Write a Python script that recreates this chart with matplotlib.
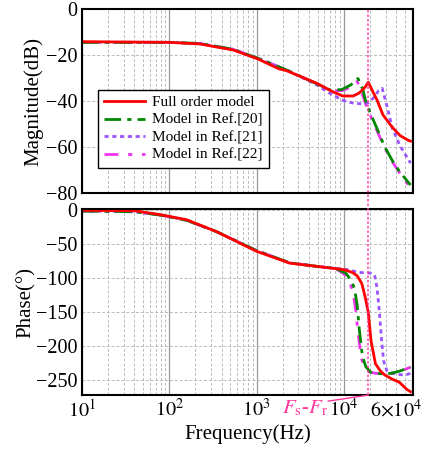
import numpy as np
import matplotlib
matplotlib.use("Agg")
import matplotlib.pyplot as plt
import matplotlib.transforms as mtransforms
from matplotlib.lines import Line2D

plt.rcParams['font.family'] = ['Liberation Serif', 'DejaVu Serif']
plt.rcParams['mathtext.fontset'] = 'stix'
plt.rcParams['axes.unicode_minus'] = True

# ---------------- data ----------------
# Full order model
f_full_mag = [10, 40, 100, 224, 537, 1050, 1800, 2200, 4900, 7500, 9700, 12800, 15000, 17500, 19000, 21500, 24000, 28000, 36000, 44000, 54000, 58000]
m_full = [-14.2, -14.4, -14.5, -15.2, -17.8, -21.8, -26.0, -26.8, -32.3, -36.0, -37.8, -37.8, -36.5, -34.0, -31.8, -36.0, -39.6, -46.0, -51.5, -55.0, -57.0, -57.4]
f_full_ph = [10, 40, 80, 158, 345, 1000, 2400, 4800, 10000, 12500, 14200, 16000, 17300, 18200, 19000, 20500, 23000, 26000, 29000, 35000, 43000, 53000, 58000]
p_full = [-1.0, -1.5, -7.4, -14.7, -32.0, -61.0, -78.4, -83.0, -88.0, -92.0, -97.0, -108.0, -125.0, -138.0, -150.0, -193.0, -226.0, -236.0, -242.0, -248.0, -253.0, -264.0, -267.0]

# Model in Ref.[20]
f_r20_mag = [10, 100, 224, 537, 1050, 2200, 4900, 7000, 9500, 12000, 14500, 16500, 18000, 21000, 24000, 29000, 36000, 44000, 58000]
m_r20 = [-14.5, -14.5, -15.0, -17.5, -21.5, -26.5, -32.5, -35.3, -35.0, -33.0, -30.2, -35.0, -41.0, -47.0, -52.0, -59.5, -66.0, -71.0, -76.5]
f_r20_ph = [10, 40, 80, 158, 345, 1000, 2400, 4800, 8000, 10500, 12000, 13200, 14200, 15000, 16300, 17800, 20000, 23000, 29000, 35000, 43000, 58000]
p_r20 = [-2.0, -3.0, -8.0, -15.5, -32.0, -60.0, -78.0, -83.0, -86.0, -93.0, -103.0, -115.0, -140.0, -175.0, -215.0, -230.0, -238.0, -240.0, -241.0, -240.0, -237.0, -231.0]

# Model in Ref.[21]
f_r21_mag = [10, 100, 224, 537, 1050, 2200, 4900, 7500, 10000, 13000, 16000, 19000, 22000, 25000, 27500, 31000, 36000, 44000, 58000]
m_r21 = [-14.5, -14.5, -15.0, -17.5, -21.5, -26.5, -33.0, -37.5, -39.8, -41.0, -41.2, -40.8, -38.5, -35.5, -34.5, -42.0, -52.0, -59.5, -67.0]
f_r21_ph = [10, 40, 80, 158, 345, 1000, 2400, 4800, 8000, 11000, 15000, 20000, 22500, 24000, 25500, 27000, 28500, 31000, 36000, 44000, 52000, 58000]
p_r21 = [-2.0, -3.0, -8.0, -15.5, -32.0, -60.0, -78.0, -83.0, -86.0, -88.0, -92.0, -93.0, -96.0, -115.0, -150.0, -190.0, -222.0, -236.0, -240.0, -242.0, -242.0, -240.0]

# Model in Ref.[22]
f_r22_mag = [10, 100, 224, 537, 1050, 2200, 4900, 7000, 9500, 12000, 14200, 16000, 18000, 21000, 24000, 29000, 36000, 44000, 56000]
m_r22 = [-14.5, -14.5, -15.0, -17.5, -21.5, -26.5, -32.5, -35.5, -35.5, -34.0, -31.5, -36.0, -42.0, -48.0, -53.0, -60.0, -66.5, -71.5, -77.0]
f_r22_ph = [10, 40, 80, 158, 345, 1000, 2400, 4800, 8000, 10000, 11500, 12700, 13600, 14500, 15800, 17500, 19500, 23000, 29000, 36000, 44000, 58000]
p_r22 = [-2.0, -3.0, -8.0, -15.5, -32.0, -60.0, -78.0, -83.0, -86.0, -94.0, -105.0, -120.0, -145.0, -180.0, -218.0, -232.0, -238.0, -240.0, -241.0, -240.0, -237.0, -231.0]

f_marker = 19000  # Fs - Fr

labels = ['Full order model', 'Model in Ref.[20]', 'Model in Ref.[21]', 'Model in Ref.[22]']
xtick_vals = [10, 100, 1000, 10000, 60000]
xtick_labels = [r'$10^1$', r'$10^2$', r'$10^3$', r'$10^4$', r'$6{\times}10^4$']
mag_ticks = [0, -20, -40, -60, -80]
ph_ticks = [0, -50, -100, -150, -200, -250]

# ---------------- figure ----------------
fig = plt.figure(figsize=(4.33, 4.49), dpi=100)
ax1 = fig.add_axes([0.189, 0.570, 0.765, 0.410])
ax2 = fig.add_axes([0.189, 0.120, 0.765, 0.4145])

red = '#ff0000'
green = '#008800'
purple = '#9955ff'
magenta = '#ee33ee'
pink = '#ff3399'

styles = [
    dict(color=red, lw=2.0, ls='-'),
    dict(color=green, lw=2.0, dashes=(6, 2.2, 1.5, 2.2)),
    dict(color=purple, lw=2.0, dashes=(1.5, 1.3)),
    dict(color=magenta, lw=2.0, dashes=(5, 3.5, 1.5, 3.5)),
]

mag_data = [(f_full_mag, m_full), (f_r20_mag, m_r20), (f_r21_mag, m_r21), (f_r22_mag, m_r22)]
ph_data = [(f_full_ph, p_full), (f_r20_ph, p_r20), (f_r21_ph, p_r21), (f_r22_ph, p_r22)]
order = [3, 2, 1, 0]
handles = [None] * 4
for i in order:
    l, = ax1.plot(mag_data[i][0], mag_data[i][1], label=labels[i], **styles[i])
    handles[i] = l
    ax2.plot(ph_data[i][0], ph_data[i][1], **styles[i])

for ax in (ax1, ax2):
    ax.set_xscale('log')
    ax.set_xlim(10, 62000)
    ax.grid(True, which='major', axis='x', color='#999999', lw=0.9, ls='-')
    ax.grid(True, which='minor', axis='x', color='#bbbbbb', lw=0.7, ls=(0, (3, 2)))
    ax.grid(True, which='major', axis='y', color='#bbbbbb', lw=0.7, ls=(0, (3, 2)))
    for s in ax.spines.values():
        s.set_linewidth(1.5)
        s.set_color('black')
    ax.tick_params(which='both', length=0, labelsize=14.5, pad=3)
    ax.set_axisbelow(True)

ax1.set_ylim(-80, 0)
ax1.set_yticks(mag_ticks)
ax1.set_xticks(xtick_vals)
ax1.set_xticklabels([])
ax1.set_ylabel('Magnitude(dB)', fontsize=15, labelpad=2)

ax2.set_ylim(-272, 1)
ax2.set_yticks(ph_ticks)
ax2.set_xticks(xtick_vals)
ax2.set_xticklabels(xtick_labels)
ax2.set_ylabel('Phase(°)', fontsize=15, labelpad=0)
ax2.set_xlabel('Frequency(Hz)', fontsize=15, labelpad=2)

# shift the 6x10^4 label leftwards
lbl = ax2.get_xticklabels()[-1]
lbl.set_transform(lbl.get_transform() + mtransforms.ScaledTranslation(-16 / 100, 0, fig.dpi_scale_trans))

leg = ax1.legend(handles=handles, loc='lower left', bbox_to_anchor=(0.048, 0.136),
                 borderaxespad=0, fontsize=11, frameon=True, fancybox=False,
                 edgecolor='black', framealpha=1, handlelength=2.7, handletextpad=0.45,
                 labelspacing=0.25, borderpad=0.4)
leg.get_frame().set_linewidth(1.0)

# Fs-Fr marker line spanning both axes
trans = mtransforms.blended_transform_factory(ax2.transData, fig.transFigure)
fig.add_artist(Line2D([f_marker, f_marker], [0.120, 0.980], transform=trans,
                      color=pink, lw=1.2, ls=(0, (1.5, 1.2)), alpha=0.85))
# slanted leader to the label
x0, y0 = trans.transform((f_marker, 0.120))
fig.add_artist(Line2D([x0, x0 - 40], [y0, y0 - 6], color=pink, lw=1.0,
                      transform=mtransforms.IdentityTransform()))
fig.text(0.705, 0.080, r'$F_{\rm s}$-$F_{\rm r}$', color=pink, fontsize=15, ha='center', va='baseline')

fig.savefig('out.png', dpi=100)
